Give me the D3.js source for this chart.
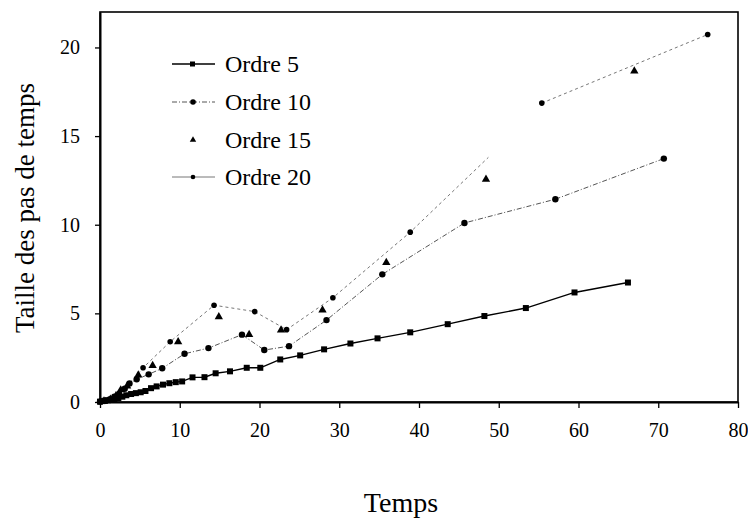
<!DOCTYPE html>
<html>
<head>
<meta charset="utf-8">
<script src="https://cdn.jsdelivr.net/npm/d3@7"></script>
<style>
  body { margin: 0; background: #fff; }
  svg { display: block; }
  svg text { font-family: "Liberation Serif" !important; }
</style>
</head>
<body>
<div id="chart"></div>
<script>
// values
var ordre5X = [0, 0.3, 0.6, 1, 1.4, 1.8, 2.3, 2.8, 3.3, 3.9, 4.5, 5.1, 5.7, 6.4, 7.1, 7.9, 8.7, 9.5, 10.3, 11.6, 13.1, 14.5, 16.3, 18.4, 20.1, 22.6, 25.1, 28.1, 31.4, 34.8, 38.9, 43.6, 48.2, 53.4, 59.5, 66.2]
var ordre5Y = [0.02, 0.05, 0.07, 0.1, 0.13, 0.17, 0.22, 0.3, 0.38, 0.45, 0.5, 0.55, 0.62, 0.78, 0.88, 0.98, 1.06, 1.12, 1.16, 1.39, 1.4, 1.62, 1.73, 1.93, 1.93, 2.4, 2.63, 2.97, 3.3, 3.59, 3.93, 4.39, 4.85, 5.3, 6.18, 6.74]

var ordre10X = [0, 0.6, 1.2, 1.8, 2.4, 3.1, 3.7, 4.6, 6.1, 7.8, 10.6, 13.6, 17.8, 20.6, 23.7, 28.4, 35.4, 45.7, 57.1, 70.7]
var ordre10Y = [0.02, 0.08, 0.15, 0.3, 0.45, 0.75, 1.05, 1.28, 1.56, 1.9, 2.72, 3.04, 3.8, 2.93, 3.15, 4.62, 7.2, 10.1, 11.44, 13.73]

var ordre15X = [0.5, 1.3, 2.0, 2.6, 3.4, 4.8, 6.6, 9.8, 14.9, 18.7, 22.7, 27.9, 35.9, 48.4, 67.0]
var ordre15Y = [0.05, 0.15, 0.35, 0.68, 0.9, 1.52, 2.05, 3.4, 4.8, 3.8, 4.06, 5.18, 7.87, 12.56, 18.67]

// null = break in the line
var ordre20X = [0, 0.8, 1.6, 2.4, 3.2, 4.0, 5.4, 8.8, 14.3, 19.4, 23.4, 29.2, 38.9, 48.7, null, 55.4, 76.2]
var ordre20Y = [0.02, 0.12, 0.3, 0.55, 0.85, 1.2, 1.93, 3.4, 5.46, 5.1, 4.08, 5.88, 9.58, 13.8, null, 16.86, 20.73]
var ordre20Marked = [false, false, false, false, false, false, true, true, true, true, true, true, true, false, false, true, true]

var xTicks = [0, 10, 20, 30, 40, 50, 60, 70, 80]
var yTicks = [0, 5, 10, 15, 20]
var legendLabels = ["Ordre 5", "Ordre 10", "Ordre 15", "Ordre 20"]

const width = 748
const height = 524
const margin = {top: 12, right: 10, bottom: 122, left: 100}

const svg = d3.select("#chart").append("svg")
  .attr("width", width)
  .attr("height", height)
  .attr("font-family", "Liberation Serif")

var x = d3.scaleLinear().domain([0, 80]).range([margin.left, width - margin.right])
var y = d3.scaleLinear().domain([0, 22]).range([height - margin.bottom, margin.top])

// frame
svg.append("rect")
  .attr("x", x(0)).attr("y", y(22))
  .attr("width", x(80) - x(0)).attr("height", y(0) - y(22))
  .attr("fill", "none").attr("stroke", "#000").attr("stroke-width", 1.6)

var xAxis = svg.append("g")
  .attr("transform", "translate(0," + y(0) + ")")
  .call(d3.axisBottom(x).tickValues(xTicks).tickSize(6).tickPadding(15).tickSizeOuter(0))
xAxis.attr("font-family", "Liberation Serif").attr("font-size", 20)
xAxis.select(".domain").attr("stroke-width", 2)
xAxis.selectAll("text").attr("fill", "#000")
xAxis.selectAll("line").attr("stroke-width", 1.3)

var yAxis = svg.append("g")
  .attr("transform", "translate(" + x(0) + ",0)")
  .call(d3.axisLeft(y).tickValues(yTicks).tickSize(5).tickPadding(15).tickSizeOuter(0))
yAxis.attr("font-family", "Liberation Serif").attr("font-size", 20)
yAxis.select(".domain").attr("stroke-width", 2)
yAxis.selectAll("text").attr("fill", "#000")
yAxis.selectAll("line").attr("stroke-width", 1.3)

svg.append("text")
  .attr("x", 401).attr("y", 512)
  .attr("text-anchor", "middle")
  .attr("font-size", 28)
  .text("Temps")

svg.append("text")
  .attr("transform", "translate(34,208) rotate(-90)")
  .attr("text-anchor", "middle")
  .attr("font-size", 27)
  .text("Taille des pas de temps")

var line = d3.line()
  .defined(function(d) { return d[0] != null })
  .x(function(d) { return x(d[0]) })
  .y(function(d) { return y(d[1]) })

var tri = d3.symbol().type(d3.symbolTriangle).size(30)

// Ordre 20
var d20 = d3.zip(ordre20X, ordre20Y, ordre20Marked)
svg.append("path").datum(d20).attr("d", line)
  .attr("fill", "none").attr("stroke", "#777").attr("stroke-width", 1)
  .attr("stroke-dasharray", "3,3")
svg.append("g").selectAll("circle")
  .data(d20.filter(function(d) { return d[0] != null && d[2] }))
  .enter().append("circle")
  .attr("cx", function(d) { return x(d[0]) })
  .attr("cy", function(d) { return y(d[1]) })
  .attr("r", 2.8).attr("fill", "#000")

// Ordre 10
var d10 = d3.zip(ordre10X, ordre10Y)
svg.append("path").datum(d10).attr("d", line)
  .attr("fill", "none").attr("stroke", "#555").attr("stroke-width", 1)
  .attr("stroke-dasharray", "5,2,1,2")
svg.append("g").selectAll("circle")
  .data(d10)
  .enter().append("circle")
  .attr("cx", function(d) { return x(d[0]) })
  .attr("cy", function(d) { return y(d[1]) })
  .attr("r", 3.2).attr("fill", "#000")

// Ordre 15 (markers only)
svg.append("g").selectAll("path")
  .data(d3.zip(ordre15X, ordre15Y))
  .enter().append("path")
  .attr("d", tri)
  .attr("transform", function(d) { return "translate(" + x(d[0]) + "," + y(d[1]) + ")" })
  .attr("fill", "#000")

// Ordre 5
var d5 = d3.zip(ordre5X, ordre5Y)
svg.append("path").datum(d5).attr("d", line)
  .attr("fill", "none").attr("stroke", "#000").attr("stroke-width", 1.4)
svg.append("g").selectAll("rect")
  .data(d5)
  .enter().append("rect")
  .attr("x", function(d) { return x(d[0]) - 3 })
  .attr("y", function(d) { return y(d[1]) - 3 })
  .attr("width", 6).attr("height", 6).attr("fill", "#000")

// legend
var legend = svg.append("g").attr("font-family", "Liberation Serif").attr("font-size", 24)
var rowY = [64, 102, 140, 177]
for (let i = 0; i < 4; i++) {
  var g = legend.append("g").attr("transform", "translate(0," + rowY[i] + ")")
  if (i == 0) {
    g.append("line").attr("x1", 172).attr("x2", 215).attr("stroke", "#000").attr("stroke-width", 1.4)
    g.append("rect").attr("x", 190).attr("y", -2.5).attr("width", 5).attr("height", 5)
  } else if (i == 1) {
    g.append("line").attr("x1", 172).attr("x2", 215).attr("stroke", "#555").attr("stroke-dasharray", "5,2,1,2")
    g.append("circle").attr("cx", 193).attr("r", 2.8)
  } else if (i == 2) {
    g.append("path").attr("d", d3.symbol().type(d3.symbolTriangle).size(18)).attr("transform", "translate(193,0)")
  } else {
    g.append("line").attr("x1", 172).attr("x2", 215).attr("stroke", "#777")
    g.append("circle").attr("cx", 193).attr("r", 2.3)
  }
  g.append("text").attr("x", 225).attr("y", 8)
    .text(legendLabels[i])
}
</script>
</body>
</html>
